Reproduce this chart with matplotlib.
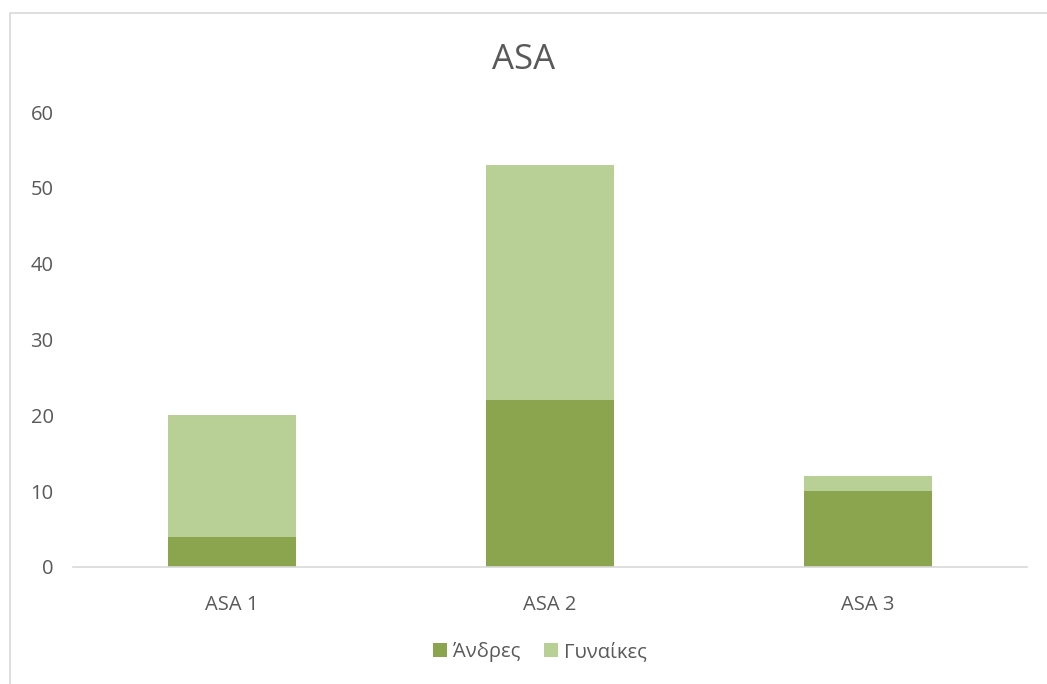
import matplotlib.pyplot as plt
from matplotlib.patches import Rectangle

categories = ["ASA 1", "ASA 2", "ASA 3"]
men = [4, 22, 10]
women = [16, 31, 2]
series_labels = ["Άνδρες", "Γυναίκες"]

DARK = "#8AA54E"
LIGHT = "#B8CF96"
TEXT = "#595959"

plt.rcParams['font.family'] = ['Open Sans', 'DejaVu Sans']

fig = plt.figure(figsize=(10.47, 6.84), dpi=100)
# chart frame, only top and left edges fall inside the image
fig.patches.append(Rectangle((10 / 1047, -0.1), 1.2, 1 - 13 / 684 + 0.1,
                             transform=fig.transFigure, fill=False,
                             edgecolor="#D9D9D9", linewidth=1.2))

ax = fig.add_axes([73 / 1047, 1 - 567 / 684, (1027 - 73) / 1047, (567 - 112) / 684])
x = range(len(categories))
ax.bar(x, men, width=0.4, color=DARK, label=series_labels[0])
ax.bar(x, women, width=0.4, bottom=men, color=LIGHT, label=series_labels[1])

ax.set_xlim(-0.5, 2.5)
ax.set_ylim(0, 60)
ax.set_yticks(range(0, 61, 10))
ax.set_xticks(list(x))
ax.set_xticklabels(categories)
ax.tick_params(axis='both', length=0, labelsize=14.5, colors=TEXT)
ax.tick_params(axis='y', pad=14)
ax.tick_params(axis='x', pad=20)
for side in ['top', 'right', 'left']:
    ax.spines[side].set_visible(False)
ax.spines['bottom'].set_color("#D9D9D9")
ax.spines['bottom'].set_linewidth(1.2)

fig.text(0.5, 1 - 60 / 684, "ASA", ha='center', va='center', fontsize=25, color=TEXT)

leg = fig.legend(loc='center', bbox_to_anchor=(540 / 1047, 1 - 652 / 684), ncol=2, frameon=False,
                 fontsize=14.5, handlelength=0.7, handleheight=0.7, handletextpad=0.3,
                 columnspacing=1.2)
for t in leg.get_texts():
    t.set_color(TEXT)

fig.savefig("out.png", dpi=100)
